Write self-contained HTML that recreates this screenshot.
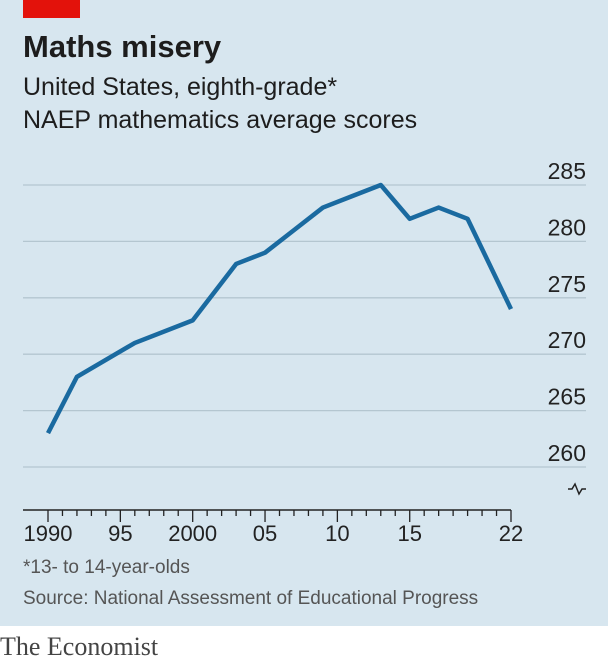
<!DOCTYPE html>
<html><head><meta charset="utf-8"><style>
body{margin:0;width:608px;height:662px;background:#fff;overflow:hidden}
svg{display:block}
text{font-family:"Liberation Sans",sans-serif}
</style></head><body>
<svg width="608" height="662">
<rect x="0" y="0" width="608" height="626" fill="#d7e6ef"/>
<rect x="23" y="0" width="57" height="18" fill="#e3120b"/>
<text x="23" y="57" font-size="31" font-weight="bold" fill="#1d1d1d">Maths misery</text>
<text x="23" y="95" font-size="25" fill="#1d1d1d">United States, eighth-grade*</text>
<text x="23" y="128" font-size="25" fill="#1d1d1d">NAEP mathematics average scores</text>
<g id="grid"></g>
<g id="xaxis"></g>
<path d="M568 489 h4 l3 -5 l4 10 l3 -5 h4" stroke="#222" stroke-width="1.5" fill="none"/>
<g id="series"></g>
<text x="23" y="573" font-size="19" fill="#555">*13- to 14-year-olds</text>
<text x="23" y="604" font-size="19" fill="#555">Source: National Assessment of Educational Progress</text>
<text x="0" y="655" font-size="26" fill="#444" style="font-family:'Liberation Serif',serif">The Economist</text>
</svg>
<script>
const years=[1990,1992,1996,2000,2003,2005,2007,2009,2011,2013,2015,2017,2019,2022];
const scores=[263,268,271,273,278,279,281,283,284,285,282,283,282,274];
const yTicks=[260,265,270,275,280,285];
const xTickLabels=["1990","95","2000","05","10","15","22"];
const xTickYears=[1990,1995,2000,2005,2010,2015,2022];
const NS="http://www.w3.org/2000/svg";
const xs=y=>48+(y-1990)*(463/32);
const ys=v=>467-(v-260)*(282/25);
function mk(t,a,p){const e=document.createElementNS(NS,t);for(const k in a)e.setAttribute(k,a[k]);p.appendChild(e);return e;}
const grid=document.getElementById('grid');
yTicks.forEach(v=>{
 const l=mk('line',{x1:23,x2:586,y1:ys(v),y2:ys(v),stroke:'#b4c6d0','stroke-width':1.3},grid);
 
 
 const t=mk('text',{x:586,y:ys(v)-6,'text-anchor':'end','font-size':23,fill:'#222'},grid);
 t.textContent=v;
 
 
});
const xa=document.getElementById('xaxis');
const ax=mk('line',{x1:23,x2:511,y1:510,y2:510,stroke:'#222','stroke-width':1.5},xa);


for(let y=1990;y<=2022;y++){
 const major=xTickYears.includes(y);
 const tk=mk('line',{x1:xs(y),x2:xs(y),y1:510,y2:major?522:516,stroke:'#222','stroke-width':1.3},xa);
 
 
}
xTickYears.forEach((y,i)=>{
 const t=mk('text',{x:xs(y),y:541,'text-anchor':'middle','font-size':22,fill:'#222'},xa);
 t.textContent=xTickLabels[i];
 
 
});
const s=document.getElementById('series');
const p=mk('polyline',{points:years.map((y,i)=>xs(y)+','+ys(scores[i])).join(' '),fill:'none',stroke:'#1a6aa0','stroke-width':4.5,'stroke-linejoin':'round'},s);


</script>
</body></html>
